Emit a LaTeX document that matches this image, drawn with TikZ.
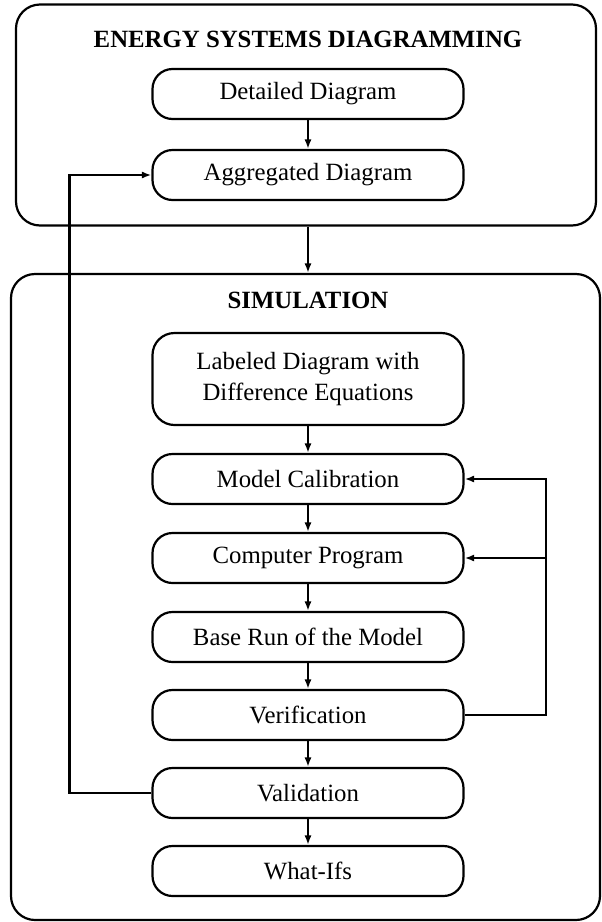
\documentclass[tikz,border=0pt]{standalone}
\usepackage{fontspec}
\setmainfont{Liberation Serif}
\usetikzlibrary{arrows.meta, positioning}

\begin{document}
\begin{tikzpicture}[x=0.5pt, y=-0.5pt, font=\fontsize{12.4}{15.5}\selectfont,
    stage/.style={draw, line width=1.1pt, rounded corners=10pt, minimum width=155.5pt, minimum height=25pt, inner sep=2pt, align=center},
    panel/.style={draw, line width=1.1pt, rounded corners=12pt},
    heading/.style={font=\fontsize{12.4}{15.5}\selectfont\bfseries},
    flow/.style={-{Latex[length=4.8pt, width=3.6pt]}, line width=1.1pt}]
  \useasboundingbox (0,0) rectangle (601,922);

  % Energy systems diagramming panel
  \node[panel, minimum width=290pt, minimum height=110.5pt] (esd) at (306,115) {};
  \node[heading] (esdtitle) at (308,39) {ENERGY SYSTEMS DIAGRAMMING};
  \node[stage] (detailed) at (308,94) {Detailed Diagram};
  \node[stage] (aggregated) at (308,175) {Aggregated Diagram};

  % Simulation panel
  \node[panel, minimum width=294.5pt, minimum height=323pt] (sim) at (305.5,597) {};
  \node[heading] (simtitle) at (308,300) {SIMULATION};
  \node[stage, minimum height=46pt, rounded corners=11pt] (labeled) at (308,379) {Labeled Diagram with\\Difference Equations};
  \node[stage] (calib) at (308,479) {Model Calibration};
  \node[stage] (program) at (308,558) {Computer Program};
  \node[stage] (baserun) at (308,637) {Base Run of the Model};
  \node[stage] (verif) at (308,715) {Verification};
  \node[stage] (valid) at (308,793) {Validation};
  \node[stage] (whatifs) at (308,871) {What-Ifs};

  % Main flow
  \draw[flow] (detailed) -- (aggregated);
  \draw[flow] (aggregated.south |- esd.south) -- (aggregated.south |- sim.north);
  \draw[flow] (labeled) -- (calib);
  \draw[flow] (calib) -- (program);
  \draw[flow] (program) -- (baserun);
  \draw[flow] (baserun) -- (verif);
  \draw[flow] (verif) -- (valid);
  \draw[flow] (valid) -- (whatifs);

  % Feedback loops
  \draw[flow] (verif.east) -| ([xshift=40.5pt]calib.east) -- (calib.east);
  \draw[flow] ([xshift=40.5pt]program.east) -- (program.east);
  \draw[flow] (valid.west) -| ([xshift=-41pt]aggregated.west) -- (aggregated.west);
\end{tikzpicture}
\end{document}
